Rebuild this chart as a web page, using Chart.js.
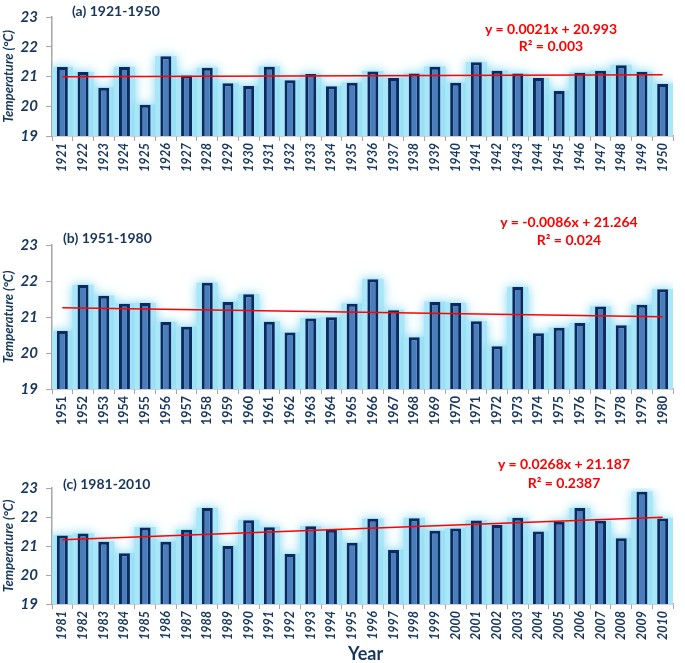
<!DOCTYPE html>
<html>
<head>
<meta charset="utf-8">
<script src="https://cdn.jsdelivr.net/npm/chart.js@4"></script>
<style>
  body { margin: 0; background: #fff; width: 685px; height: 663px; position: relative; overflow: hidden; font-family: Lato, 'Open Sans', sans-serif; }
  canvas { position: absolute; left: 0; }
  .lbl { position: absolute; font-weight: bold; color: #17365d; font-size: 14px; white-space: nowrap; line-height: 1; }
  .eq { position: absolute; font-weight: bold; color: #ff0000; font-size: 14px; text-align: center; transform: translate(-50%, -50%); white-space: nowrap; line-height: 1; }
</style>
</head>
<body>
<canvas id="chart-a" width="685" height="176" style="top:0px"></canvas>
<canvas id="chart-b" width="685" height="201" style="top:228px"></canvas>
<canvas id="chart-c" width="685" height="173" style="top:471px"></canvas>

<div class="lbl" style="left:72px;top:4px">(a) 1921-1950</div>
<div class="lbl" style="left:63px;top:231px">(b) 1951-1980</div>
<div class="lbl" style="left:63px;top:477px">(c) 1981-2010</div>

<div class="eq" style="left:551px;top:29px">y = 0.0021x + 20.993</div>
<div class="eq" style="left:551px;top:46px">R² = 0.003</div>
<div class="eq" style="left:569px;top:222px">y = -0.0086x + 21.264</div>
<div class="eq" style="left:569px;top:240px">R² = 0.024</div>
<div class="eq" style="left:564px;top:464px">y = 0.0268x + 21.187</div>
<div class="eq" style="left:564px;top:483px">R² = 0.2387</div>

<div class="lbl" style="left:348px;top:644px;font-size:18px">Year</div>

<script>
// Années (catégories) de chaque période
const yearsA = ['1921','1922','1923','1924','1925','1926','1927','1928','1929','1930',
  '1931','1932','1933','1934','1935','1936','1937','1938','1939','1940',
  '1941','1942','1943','1944','1945','1946','1947','1948','1949','1950'];
const yearsB = ['1951','1952','1953','1954','1955','1956','1957','1958','1959','1960',
  '1961','1962','1963','1964','1965','1966','1967','1968','1969','1970',
  '1971','1972','1973','1974','1975','1976','1977','1978','1979','1980'];
const yearsC = ['1981','1982','1983','1984','1985','1986','1987','1988','1989','1990',
  '1991','1992','1993','1994','1995','1996','1997','1998','1999','2000',
  '2001','2002','2003','2004','2005','2006','2007','2008','2009','2010'];

// Températures moyennes annuelles (°C)
const tempA = [21.32, 21.15, 20.62, 21.32, 20.05, 21.68, 21.03, 21.29, 20.77, 20.68,
  21.33, 20.87, 21.08, 20.67, 20.79, 21.17, 20.95, 21.10, 21.33, 20.79,
  21.48, 21.19, 21.10, 20.95, 20.51, 21.13, 21.19, 21.38, 21.16, 20.75];
const tempB = [20.61, 21.89, 21.59, 21.37, 21.39, 20.86, 20.73, 21.95, 21.42, 21.63,
  20.87, 20.57, 20.96, 20.99, 21.37, 22.05, 21.19, 20.44, 21.42, 21.39,
  20.88, 20.19, 21.83, 20.55, 20.70, 20.83, 21.29, 20.77, 21.34, 21.77];
const tempC = [21.36, 21.43, 21.15, 20.75, 21.64, 21.15, 21.56, 22.31, 21.00, 21.89,
  21.65, 20.72, 21.68, 21.56, 21.11, 21.94, 20.86, 21.96, 21.53, 21.60,
  21.88, 21.72, 21.97, 21.50, 21.84, 22.31, 21.87, 21.27, 22.87, 21.95];

// Droites de tendance : valeur au premier et au dernier point
const trendA = [20.995, 21.056];
const trendB = [21.255, 21.006];
const trendC = [21.214, 21.991];

const NAVY = '#17365d';
const AXIS = '#a6a6a6';

/** Halo cyan flou autour des barres. */
const glowPlugin = {
  id: 'glow',
  beforeDatasetDraw(chart, args) {
    if (chart.data.datasets[args.index].isGlow) {
      chart.ctx.save();
      chart.ctx.shadowColor = '#7fd6f2';
      chart.ctx.shadowBlur = 11;
    }
  },
  afterDatasetDraw(chart, args) {
    if (chart.data.datasets[args.index].isGlow) chart.ctx.restore();
  },
};

function makePanel(id, labels, values, trend, italicX) {
  const last = labels.length - 1;
  return new Chart(document.getElementById(id), {
    type: 'bar',
    data: {
      labels,
      datasets: [
        {
          type: 'line',
          data: [{ x: labels[0], y: trend[0] }, { x: labels[last], y: trend[1] }],
          borderColor: '#ff0000',
          borderWidth: 1.5,
          pointRadius: 0,
          order: 0,
        },
        {
          data: values,
          backgroundColor: '#4b7dbb',
          borderColor: '#0c2a60',
          borderWidth: 3,
          barPercentage: 0.53,
          categoryPercentage: 1,
          grouped: false,
          order: 1,
        },
        {
          isGlow: true,
          data: values,
          backgroundColor: '#a9e6f7',
          borderWidth: 0,
          barPercentage: 1,
          categoryPercentage: 1,
          grouped: false,
          order: 2,
        },
      ],
    },
    options: {
      responsive: false,
      animation: false,
      devicePixelRatio: 1,
      layout: { padding: { top: 8, right: 12, left: 0, bottom: 0 } },
      plugins: { legend: { display: false }, tooltip: { enabled: false } },
      scales: {
        x: {
          ticks: {
            minRotation: 90, maxRotation: 90, autoSkip: false, padding: 2,
            color: NAVY, font: { family: 'Lato', size: 12.5, weight: 'bold', style: italicX ? 'italic' : 'normal' },
          },
          grid: { drawOnChartArea: false, color: AXIS, tickLength: 5, offset: true },
          border: { color: AXIS, width: 1.5 },
          afterFit: (s) => { s.height = 40; },
        },
        y: {
          min: 19, max: 23,
          ticks: { stepSize: 1, padding: 8, color: NAVY, font: { family: 'Lato', size: 15, weight: 'bold', style: 'italic' } },
          grid: { drawOnChartArea: false, color: AXIS, tickLength: 6 },
          border: { color: AXIS, width: 1.5 },
          title: {
            display: true, text: 'Temperature (°C)', color: NAVY, padding: { top: 1, bottom: 0 },
            font: { family: 'Lato', size: 13, weight: 'bold', style: 'italic' },
          },
          afterFit: (s) => { s.width = 52; },
        },
      },
    },
    plugins: [glowPlugin],
  });
}

makePanel('chart-a', yearsA, tempA, trendA, true);
makePanel('chart-b', yearsB, tempB, trendB, false);
makePanel('chart-c', yearsC, tempC, trendC, true);
</script>
</body>
</html>
